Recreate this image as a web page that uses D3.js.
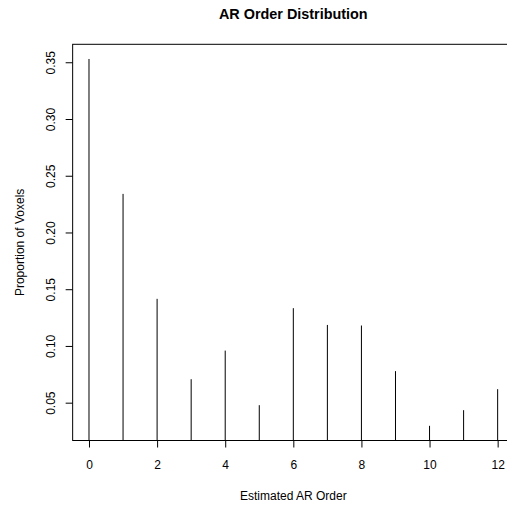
<!DOCTYPE html>
<html>
<head>
<meta charset="utf-8">
<script src="https://cdn.jsdelivr.net/npm/d3@7"></script>
<style>
  body { margin: 0; background: #fff; }
  svg { display: block; }
</style>
</head>
<body>
<script>
// AR orders and the proportion of voxels at each order
var orders = [0, 1, 2, 3, 4, 5, 6, 7, 8, 9, 10, 11, 12];
var proportions = [0.3529, 0.2340, 0.1415, 0.0707, 0.0959, 0.0478, 0.1333,
                   0.1185, 0.1180, 0.0778, 0.0296, 0.0434, 0.0619];
var xTicks = [0, 2, 4, 6, 8, 10, 12];
var yTicks = [0.05, 0.10, 0.15, 0.20, 0.25, 0.30, 0.35];

var width = 507, height = 505;
var plotLeft = 72.65, plotRight = 514, plotTop = 44.3, plotBottom = 440.5;
var font = "'Liberation Sans', Arial, Helvetica, sans-serif";

// R style 4% range extension
function extend(lo, hi) {
    var pad = (hi - lo) * 0.04;
    return [lo - pad, hi + pad];
}

var x = d3.scaleLinear()
    .domain(extend(d3.min(orders), d3.max(orders)))
    .range([plotLeft, plotRight]);
var y = d3.scaleLinear()
    .domain(extend(d3.min(proportions), d3.max(proportions)))
    .range([plotBottom, plotTop]);

var svg = d3.select("body").append("svg")
    .attr("width", width)
    .attr("height", height);

svg.append("defs").append("clipPath")
    .attr("id", "plotclip")
    .append("rect")
    .attr("x", plotLeft).attr("y", plotTop)
    .attr("width", plotRight - plotLeft).attr("height", plotBottom - plotTop);

// type = "h" vertical lines
svg.append("g")
    .attr("clip-path", "url(#plotclip)")
    .selectAll("line")
    .data(orders)
    .enter()
    .append("line")
    .attr("x1", function (d) { return x(d); })
    .attr("x2", function (d) { return x(d); })
    .attr("y1", y(Math.max(0, y.domain()[0])))
    .attr("y2", function (d, i) { return y(proportions[i]); })
    .attr("stroke", "#000")
    .attr("stroke-width", 1);

// box
svg.append("rect")
    .attr("x", plotLeft).attr("y", plotTop)
    .attr("width", plotRight - plotLeft).attr("height", plotBottom - plotTop)
    .attr("fill", "none")
    .attr("stroke", "#000")
    .attr("stroke-width", 1);

var xAxis = svg.append("g")
    .attr("transform", "translate(0," + plotBottom + ")")
    .call(d3.axisBottom(x).tickValues(xTicks).tickSize(7).tickFormat(d3.format("d")));
xAxis.select(".domain").remove();
xAxis.selectAll("text")
    .attr("y", 28.5)
    .attr("dy", 0)
    .attr("fill", "#000")
    .attr("font-size", 12)
    .attr("font-family", font);

var yAxis = svg.append("g")
    .attr("transform", "translate(" + plotLeft + ",0)")
    .call(d3.axisLeft(y).tickValues(yTicks).tickSize(7).tickFormat(d3.format(".2f")));
yAxis.select(".domain").remove();
yAxis.selectAll("text")
    .attr("transform", "rotate(-90)")
    .attr("x", 0)
    .attr("y", -18)
    .attr("dy", 0)
    .attr("text-anchor", "middle")
    .attr("fill", "#000")
    .attr("font-size", 12)
    .attr("font-family", font);

svg.append("text")
    .attr("x", (plotLeft + plotRight) / 2)
    .attr("y", 18.5)
    .attr("text-anchor", "middle")
    .attr("font-family", font)
    .attr("font-size", 14.4)
    .attr("font-weight", "bold")
    .text("AR Order Distribution");

svg.append("text")
    .attr("x", (plotLeft + plotRight) / 2)
    .attr("y", 500)
    .attr("text-anchor", "middle")
    .attr("font-family", font)
    .attr("font-size", 12)
    .text("Estimated AR Order");

svg.append("text")
    .attr("transform", "translate(24," + ((plotTop + plotBottom) / 2) + ") rotate(-90)")
    .attr("text-anchor", "middle")
    .attr("font-family", font)
    .attr("font-size", 12)
    .text("Proportion of Voxels");
</script>
</body>
</html>
